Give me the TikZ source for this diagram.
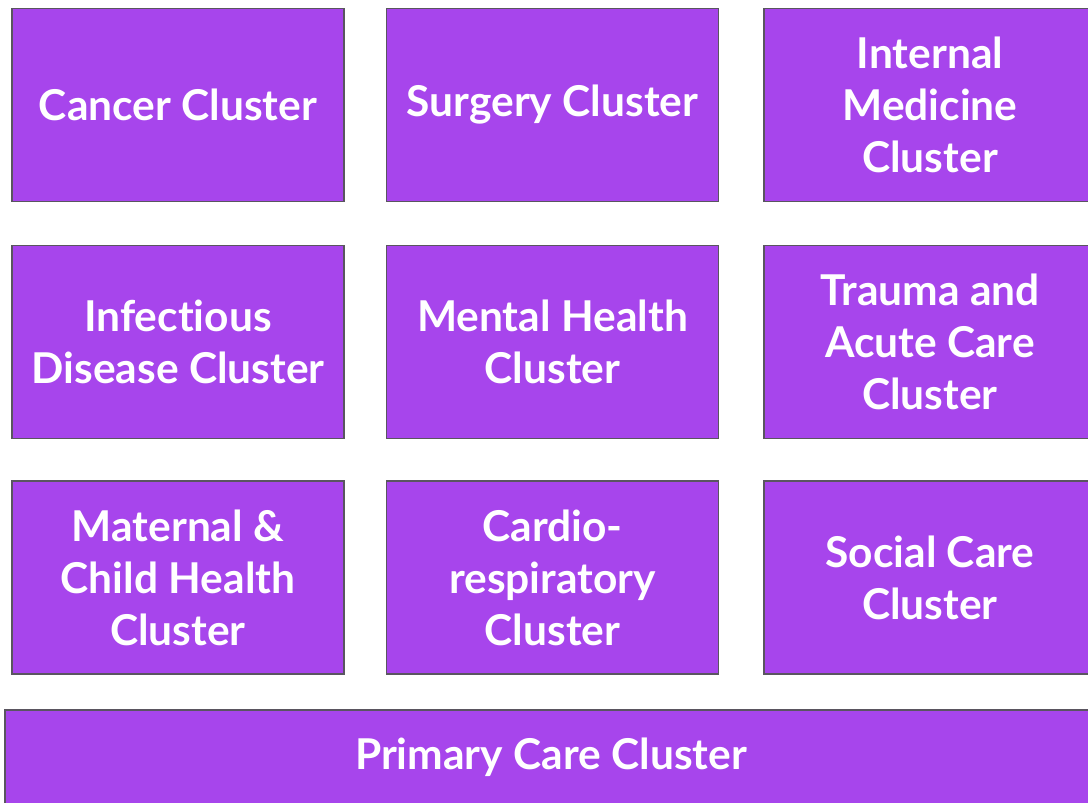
\documentclass[tikz,border=0pt]{standalone}
\usepackage{fontspec}
\setmainfont[Ligatures=NoCommon]{Lato}
\definecolor{boxfill}{HTML}{A745EC}
\definecolor{boxline}{HTML}{5A5560}
\begin{document}
\begin{tikzpicture}[x=1pt,y=1pt,
  cbox/.style={draw=boxline, line width=1.5pt, fill=boxfill, text=white,
    minimum width=332pt, minimum height=193pt, align=center, inner sep=0pt,
    font=\fontsize{42.5}{52}\selectfont\bfseries},
  wbox/.style={cbox, minimum width=1092pt, minimum height=94pt}]
\useasboundingbox (0,0) rectangle (1088,803);
\clip (0,0) rectangle (1088,803);
\node[cbox] (cancer) at (178,698) {Cancer Cluster};
\node[cbox] (surgery) at (552.5,698) {Surgery Cluster};
\node[cbox] (internal) at (930,698) {Internal\\Medicine\\Cluster};
\node[cbox] (infect) at (178,461) {Infectious\\Disease Cluster};
\node[cbox] (mental) at (552.5,461) {Mental Health\\Cluster};
\node[cbox] (trauma) at (930,461) {Trauma and\\Acute Care\\Cluster};
\node[cbox] (maternal) at (178,225.5) {Maternal \&\\Child Health\\Cluster};
\node[cbox] (cardio) at (552.5,225.5) {Cardio-\\respiratory\\Cluster};
\node[cbox] (social) at (930,225.5) {Social Care\\Cluster};
\node[wbox] (primary) at (551,46) {Primary Care Cluster};
\end{tikzpicture}
\end{document}
